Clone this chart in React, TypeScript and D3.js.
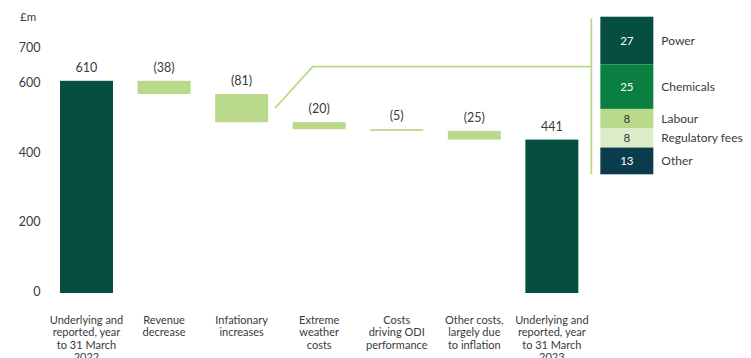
import React from "react";
import * as d3 from "d3";

const W = 751;
const H = 358;

const categoryLines: string[][] = [
  ["Underlying and", "reported, year", "to 31 March", "2022"],
  ["Revenue", "decrease"],
  ["Infationary", "increases"],
  ["Extreme", "weather", "costs"],
  ["Costs", "driving ODI", "performance"],
  ["Other costs,", "largely due", "to inflation"],
  ["Underlying and", "reported, year", "to 31 March", "2023"],
];
const stepValues = [610, -38, -81, -20, -5, -25, 441];
const stepKinds = ["total", "delta", "delta", "delta", "delta", "delta", "total"];
const yTicks = [0, 200, 400, 600, 700];

const breakdownNames = ["Power", "Chemicals", "Labour", "Regulatory fees", "Other"];
const breakdownValues = [27, 25, 8, 8, 13];
const breakdownColors = ["#064e40", "#0a8040", "#b9d98b", "#dcecc7", "#0b3c4c"];
const breakdownTextColors = ["#ffffff", "#ffffff", "#333333", "#333333", "#ffffff"];

const DARK = "#064e40";
const LIGHT = "#b9d98b";
const TEXT = "#3a3a3a";
const FONT = "Lato, 'Open Sans', sans-serif";

export default function App() {
  const x = d3
    .scaleBand<number>()
    .domain(d3.range(stepValues.length))
    .range([47.75, 590.6])
    .paddingInner(0.317)
    .paddingOuter(0.158);
  const y = d3.scaleLinear().domain([0, 700]).range([293, 49.5]);
  const bw = x.bandwidth();

  // waterfall
  let running = 0;
  const bars = stepValues.map((v, i) => {
    if (stepKinds[i] === "total") {
      running = v;
      return { i, y0: 0, y1: v, v, kind: "total" };
    }
    const start = running;
    running = running + v;
    return { i, y0: running, y1: start, v, kind: "delta" };
  });

  // breakdown stack
  const segH = d3.scaleLinear().domain([0, 27]).range([7.4, 47.6]);
  const stackTop = 16.7;
  const stackX = (x(stepValues.length - 1) as number) + bw + 22;
  let cum = stackTop;
  const segs = breakdownValues.map((v, i) => {
    const top = cum;
    const h = segH(v);
    cum += h;
    return { i, top, h, v };
  });
  const stackBottom = cum;
  const bracketX = stackX - 9;

  const b3 = bars[2];
  const connStartX = (x(2) as number) + bw + 7;
  const connStartY = (y(b3.y0) + y(b3.y1)) / 2;
  const connTurnX = (x(3) as number) + 20;
  const connY = stackTop + 50;

  return (
    <svg
      width={W}
      height={H}
      style={{ position: "absolute", left: 0, top: 0, background: "#fff" }}
      fontFamily={FONT}
    >
      <text x={20} y={21} fontSize={11.5} fill={TEXT}>
        £m
      </text>
      {yTicks.map((t) => (
        <text key={t} x={40.5} y={y(t) - 1.5} dy="0.35em" textAnchor="end" fontSize={12.5} fill={TEXT}>
          {t}
        </text>
      ))}

      {bars.map((b) => (
        <rect
          key={b.i}
          x={x(b.i)}
          y={y(b.y1)}
          width={bw}
          height={Math.max(1, y(b.y0) - y(b.y1))}
          fill={b.kind === "total" ? DARK : LIGHT}
        />
      ))}
      {bars.map((b) => (
        <text
          key={"l" + b.i}
          x={(x(b.i) as number) + bw / 2}
          y={y(b.y1) - 9}
          textAnchor="middle"
          fontSize={12.5}
          fill={TEXT}
        >
          {b.kind === "total" ? String(b.v) : `(${Math.abs(b.v)})`}
        </text>
      ))}

      {categoryLines.map((lines, i) => (
        <text
          key={"c" + i}
          x={(x(i) as number) + bw / 2}
          y={324}
          textAnchor="middle"
          fontSize={11}
          fill={TEXT}
        >
          {lines.map((ln, j) => (
            <tspan key={j} x={(x(i) as number) + bw / 2} dy={j === 0 ? 0 : 12.3}>
              {ln}
            </tspan>
          ))}
        </text>
      ))}

      <path
        d={`M${connStartX},${connStartY}L${connTurnX},${connY}L${bracketX},${connY}`}
        fill="none"
        stroke={LIGHT}
        strokeWidth={1.8}
      />
      <line x1={bracketX} x2={bracketX} y1={stackTop + 1.5} y2={stackBottom} stroke={LIGHT} strokeWidth={1.8} />

      {segs.map((s) => (
        <g key={"s" + s.i}>
          <rect x={stackX} y={s.top} width={bw} height={s.h} fill={breakdownColors[s.i]} />
          <text
            x={stackX + bw / 2}
            y={s.top + s.h / 2}
            dy="0.35em"
            textAnchor="middle"
            fontSize={11.5}
            fill={breakdownTextColors[s.i]}
          >
            {s.v}
          </text>
          <text x={stackX + bw + 8} y={s.top + s.h / 2} dy="0.35em" fontSize={12} fill={TEXT}>
            {breakdownNames[s.i]}
          </text>
        </g>
      ))}
    </svg>
  );
}
